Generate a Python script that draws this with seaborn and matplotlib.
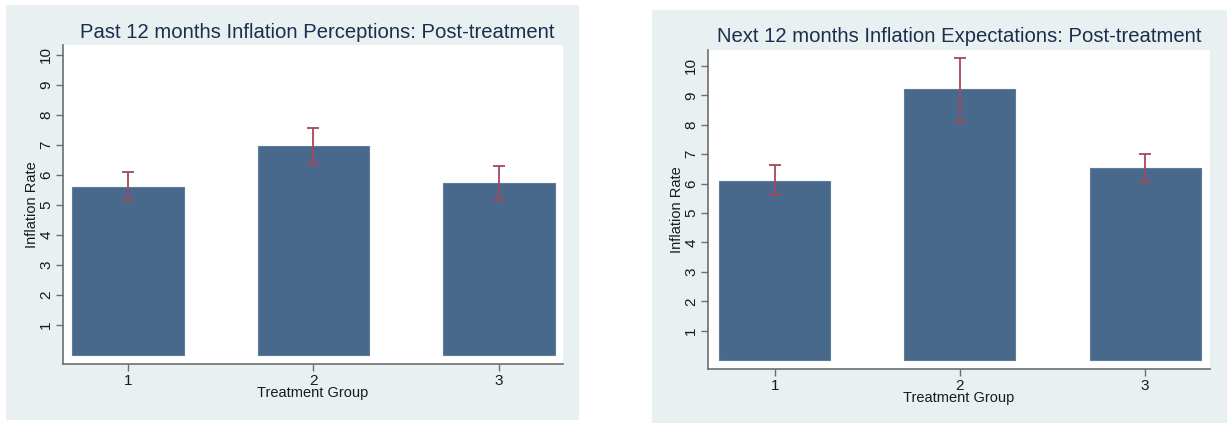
import matplotlib
matplotlib.use("Agg")
import matplotlib.pyplot as plt
import matplotlib.patches as mpatches
import pandas as pd
import seaborn as sns

# values (group means and CI bounds)
groups = ["1", "2", "3"]

past_mean = [5.61, 6.95, 5.72]
past_lo = [5.16, 6.36, 5.16]
past_hi = [6.09, 7.55, 6.29]

next_mean = [6.10, 9.20, 6.52]
next_lo = [5.60, 8.11, 6.05]
next_hi = [6.62, 10.26, 7.00]

titles = ["Past 12 months Inflation Perceptions: Post-treatment",
          "Next 12 months Inflation Expectations: Post-treatment"]

sns.set_theme(style="white")
plt.rcParams['font.family'] = ['Liberation Sans', 'DejaVu Sans']

bar_col = "#48698B"
ci_col = "#A8475A"
bg_col = "#E9F0F2"
axis_col = "#6E6E6E"
title_col = "#1C2E4E"

fig = plt.figure(figsize=(12.27, 4.23), dpi=100)
W, H = 1227, 423

# graph region backgrounds (pixel boxes -> figure fractions)
for (x0, y0, x1, y1) in [(6, 5, 579, 420), (652, 10, 1227, 423)]:
    fig.patches.append(mpatches.Rectangle((x0 / W, 1 - y1 / H), (x1 - x0) / W, (y1 - y0) / H,
                                          transform=fig.transFigure, facecolor=bg_col,
                                          edgecolor="none", zorder=-5))

ax_boxes = [(63, 45, 563, 364), (708, 50, 1210, 369)]
ylims = [(-0.3, 10.33), (-0.3, 10.54)]
xlims = [(-0.35, 2.345), (-0.36, 2.35)]
title_pos = [(317, 33), (959, 37)]
data = [(past_mean, past_lo, past_hi), (next_mean, next_lo, next_hi)]

for i in range(2):
    x0, y0, x1, y1 = ax_boxes[i]
    ax = fig.add_axes([x0 / W, 1 - y1 / H, (x1 - x0) / W, (y1 - y0) / H])
    ax.set_facecolor("white")
    mean, lo, hi = data[i]
    df = pd.DataFrame({"group": groups, "rate": mean})
    sns.barplot(df, x="group", y="rate", color=bar_col, saturation=1, width=0.6,
                errorbar=None, ax=ax, edgecolor="#5C7C9C", linewidth=0.8)
    yerr = [[m - l for m, l in zip(mean, lo)], [h - m for m, h in zip(mean, hi)]]
    ax.errorbar(range(len(groups)), mean, yerr=yerr, fmt="none", ecolor=ci_col,
                elinewidth=1.3, capsize=4, capthick=1.3)
    ax.set_ylim(*ylims[i])
    ax.set_xlim(*xlims[i])
    ax.set_yticks(range(1, 11))
    ax.set_yticklabels([str(v) for v in range(1, 11)], rotation=90, va="center")
    ax.tick_params(axis="both", which="major", length=5, width=1, color=axis_col,
                   labelsize=11, labelcolor="#1a1a1a", pad=2, bottom=True, left=True)
    for s in ["top", "right"]:
        ax.spines[s].set_visible(False)
    for s in ["left", "bottom"]:
        ax.spines[s].set_color(axis_col)
        ax.spines[s].set_linewidth(1.2)
    ax.set_xlabel("Treatment Group", fontsize=10.5, color="#1a1a1a", labelpad=-1)
    ax.set_ylabel("Inflation Rate", fontsize=10.5, color="#1a1a1a", labelpad=0)
    tx, ty = title_pos[i]
    fig.text(tx / W, 1 - ty / H, titles[i], ha="center", va="center",
             fontsize=14.6, color=title_col)

fig.savefig("out.png", dpi=100)
